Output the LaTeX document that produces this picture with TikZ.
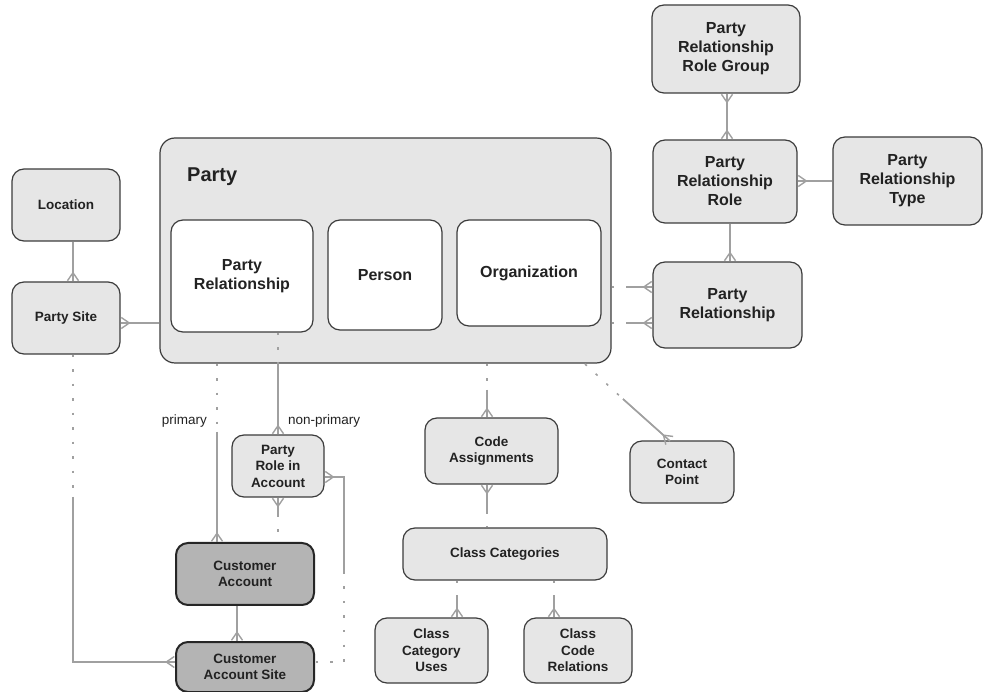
\documentclass[tikz,border=0pt]{standalone}
\usepackage{fontspec}
\setmainfont{Liberation Sans}
\usetikzlibrary{arrows.meta,calc}

\definecolor{boxfill}{HTML}{E6E6E6}
\definecolor{boxline}{HTML}{3C3C3C}
\definecolor{darkfill}{HTML}{B4B4B4}
\definecolor{linkgray}{HTML}{A0A0A0}
\definecolor{txt}{HTML}{222222}

\tikzset{
  entity/.style={draw=boxline, fill=boxfill, line width=1.2pt, rounded corners=12pt,
    align=center, inner sep=0pt, text=txt,
    font=\fontsize{13.5}{16.5}\selectfont\bfseries},
  bigentity/.style={entity, font=\fontsize{16}{19}\selectfont\bfseries},
  subtype/.style={bigentity, fill=white, draw=boxline},
  keyentity/.style={entity, fill=darkfill, draw=black!85, line width=2pt},
  link/.style={draw=linkgray, line width=1.6pt},
  optlink/.style={link, dash pattern=on 2.5pt off 12pt},
  manyend/.style={postaction={draw=linkgray, line width=1.4pt,
    -{Straight Barb[reversed,length=8pt,width=11pt]}}},
  manystart/.style={postaction={draw=linkgray, line width=1.4pt,
    {Straight Barb[reversed,length=8pt,width=11pt]}-}},
  roletext/.style={text=txt, font=\fontsize{13.5}{16}\selectfont, inner sep=0pt}
}

\begin{document}
\begin{tikzpicture}[x=1pt,y=-1pt]
\useasboundingbox (0,0) rectangle (989,692);

% ---- party supertype with its subtypes
\node[bigentity, rounded corners=15pt, minimum width=451pt, minimum height=225pt] (party) at (385.5,250.5) {};
\node[anchor=west, text=txt, font=\fontsize{20}{24}\selectfont\bfseries, inner sep=0pt] (partytitle) at (187,177) {Party};
\node[subtype, minimum width=142pt, minimum height=112pt] (prin) at (242,276) {Party\\Relationship};
\node[subtype, minimum width=114pt, minimum height=110pt] (person) at (385,275) {Person};
\node[subtype, minimum width=144pt, minimum height=106pt] (org) at (529,273) {Organization};

% ---- locations
\node[entity, minimum width=108pt, minimum height=72pt] (loc) at (66,205) {Location};
\node[entity, minimum width=108pt, minimum height=72pt] (site) at (66,318) {Party Site};

% ---- relationship entities
\node[bigentity, minimum width=148pt, minimum height=88pt] (prrg) at (726,49) {Party\\Relationship\\Role Group};
\node[bigentity, minimum width=144pt, minimum height=83pt] (prr) at (725,181.5) {Party\\Relationship\\Role};
\node[bigentity, minimum width=149pt, minimum height=88pt] (prt) at (907.5,181) {Party\\Relationship\\Type};
\node[bigentity, minimum width=149pt, minimum height=86pt] (prel) at (727.5,305) {Party\\Relationship};

% ---- accounts
\node[entity, minimum width=92pt, minimum height=62pt] (pra) at (278,466) {Party\\Role in\\Account};
\node[keyentity, minimum width=138pt, minimum height=62pt] (cacc) at (245,574) {Customer\\Account};
\node[keyentity, minimum width=138pt, minimum height=50pt] (cas) at (245,667) {Customer\\Account Site};

% ---- classification and contacts
\node[entity, minimum width=133pt, minimum height=66pt] (ca) at (491.5,451) {Code\\Assignments};
\node[entity, minimum width=104pt, minimum height=62pt] (cp) at (682,472) {Contact\\Point};
\node[entity, minimum width=204pt, minimum height=52pt] (cc) at (505,554) {Class Categories};
\node[entity, minimum width=113pt, minimum height=65pt] (ccu) at (431.5,650.5) {Class\\Category\\Uses};
\node[entity, minimum width=108pt, minimum height=65pt] (ccr) at (578,650.5) {Class\\Code\\Relations};

% ---- role labels
\node[roletext, anchor=east] (lprimary) at (207,421) {primary};
\node[roletext, anchor=west] (lnonprimary) at (288,421) {non-primary};

% ---- guide lines and break points between optional and mandatory halves
\coordinate (sitex) at (73,0);
\coordinate (primx) at (217,0);
\coordinate (accx) at (237,0);
\coordinate (sidex) at (344,0);
\coordinate (sitey) at (0,323);
\coordinate (pray) at (0,477);
\coordinate (rgx) at (727,0);
\coordinate (rtx) at (730,0);
\coordinate (rty) at (0,181);
\coordinate (b1) at (217,432);
\coordinate (b2) at (278,515);
\coordinate (b3) at (73,497);
\coordinate (b4) at (344,572);
\coordinate (b5) at (487,390);
\coordinate (b6) at (487,512);
\coordinate (b7) at (457,597);
\coordinate (b8) at (554,597);
\coordinate (cpa) at (585,364);
\coordinate (b9) at (623,399);
\coordinate (cpb) at (670,441);
\coordinate (b10) at (627,287);
\coordinate (b11) at (627,323);
\coordinate (turnL) at (73,662);
\coordinate (turnR) at (344,662);

% ---- connectors
\draw[link, manyend] (loc.south -| sitex) -- (site.north -| sitex);
\draw[link, manystart] (site.east |- sitey) -- (party.west |- sitey);

\draw[optlink] (party.south -| primx) -- (b1);
\draw[link, manyend] (b1) -- (cacc.north -| primx);

\draw[optlink] (prin.south -| pra.north) -- (party.south -| pra.north);
\draw[link, manyend] (party.south -| pra.north) -- (pra.north);

\draw[link, manystart] (pra.south) -- (b2);
\draw[optlink] (b2) -- (cacc.north -| pra.south);

\draw[link, manystart] (pra.east |- pray) -- (sidex |- pray) -- (b4);
\draw[optlink] (b4) -- (turnR) -- (cas.east |- turnR);

\draw[link, manyend] (cacc.south -| accx) -- (cas.north -| accx);

\draw[optlink] (site.south -| sitex) -- (b3);
\draw[link, manyend] (b3) -- (turnL) -- (cas.west |- turnL);

\draw[optlink] (party.south -| b5) -- (b5);
\draw[link, manyend] (b5) -- (ca.north -| b5);
\draw[link, manystart] (ca.south -| b6) -- (b6);
\draw[optlink] (b6) -- (cc.north -| b6);

\draw[optlink] (cc.south -| b7) -- (b7);
\draw[link, manyend] (b7) -- (ccu.north -| b7);
\draw[optlink] (cc.south -| b8) -- (b8);
\draw[link, manyend] (b8) -- (ccr.north -| b8);

\draw[optlink] (cpa) -- (b9);
\draw[link, manyend] (b9) -- (cpb);

\draw[optlink] (party.east |- b10) -- (b10);
\draw[link, manyend] (b10) -- (prel.west |- b10);
\draw[optlink] (party.east |- b11) -- (b11);
\draw[link, manyend] (b11) -- (prel.west |- b11);

\draw[link, manystart, manyend] (prrg.south -| rgx) -- (prr.north -| rgx);
\draw[link, manyend] (prt.west |- rty) -- (prr.east |- rty);
\draw[link, manyend] (prr.south -| rtx) -- (prel.north -| rtx);
\end{tikzpicture}
\end{document}
